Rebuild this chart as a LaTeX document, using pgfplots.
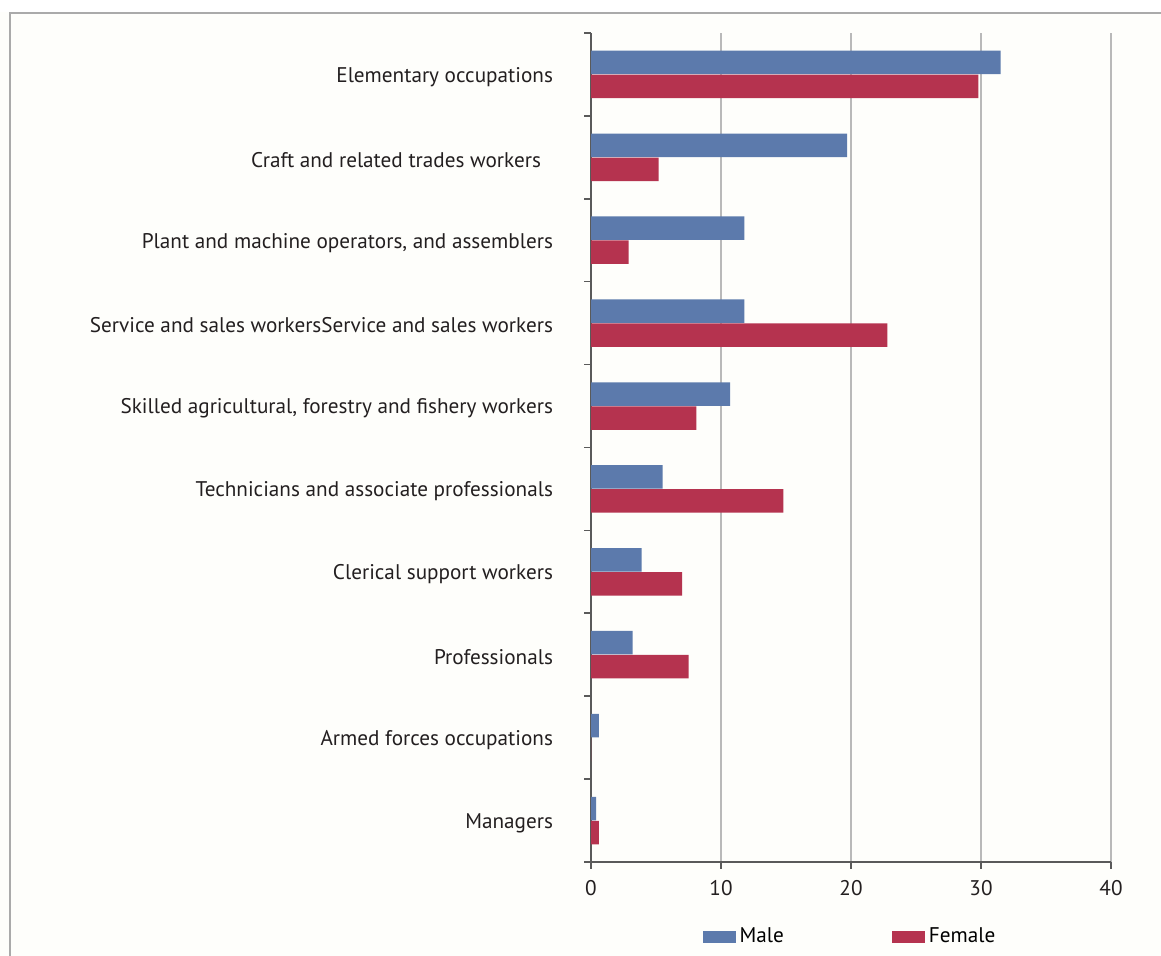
\documentclass[border=0pt]{standalone}
\usepackage{fontspec}
\setmainfont{PT Sans}
\usepackage{pgfplots}
\pgfplotsset{compat=1.18}
\definecolor{male}{RGB}{92,122,172}
\definecolor{female}{RGB}{181,51,79}
\definecolor{txt}{RGB}{35,31,32}
\definecolor{axln}{RGB}{90,90,90}
\definecolor{grd}{RGB}{185,185,185}
\definecolor{frm}{RGB}{170,170,170}
\begin{document}
\begin{tikzpicture}
\path[use as bounding box, fill={rgb,255:red,254;green,254;blue,251}] (0,0) rectangle (580.5pt,478pt);
\fill[white] (0,472pt) rectangle (580.5pt,478pt);
\draw[frm, line width=1.2pt] (5pt,0) -- (5pt,471.5pt) -- (580.5pt,471.5pt);
\begin{axis}[
  at={(295.5pt,47pt)}, anchor=south west,
  scale only axis, width=260pt, height=414.5pt,
  xbar, bar width=11.75pt,
  xmin=0, xmax=40, ymin=-0.5, ymax=9.5,
  axis lines*=left,
  axis line style={axln, line width=0.8pt},
  xtick={0,10,20,30,40},
  xmajorgrids, grid style={grd, line width=0.8pt},
  major x tick style={axln, line width=0.8pt},
  tick align=outside, major tick length=3.5pt,
  ytick={0,...,9},
  major y tick style={draw=none},
  minor ytick={-0.5,0.5,...,9.5},
  minor y tick style={axln, line width=0.8pt},
  minor tick length=3.5pt,
  yticklabels={Managers, Armed forces occupations, Professionals, Clerical support workers, Technicians and associate professionals, {Skilled agricultural, forestry and fishery workers}, Service and sales workersService and sales workers, {Plant and machine operators, and assemblers}, Craft and related trades workers\hspace*{6pt}, Elementary occupations},
  yticklabel style={font=\fontsize{10.6}{12}\selectfont, text=txt, xshift=-12pt, yshift=-1.2pt},
  xticklabel style={font=\fontsize{10.6}{12}\selectfont, text=txt, yshift=-2pt},
  /pgf/number format/assume math mode=true,
  legend style={at={(0.5,-0.09)}, anchor=center, draw=none, fill=none,
    legend columns=2, font=\fontsize{10.6}{12}\selectfont,
    /tikz/every even column/.append style={column sep=52pt}},
  legend image code/.code={\fill[#1] (0pt,-3pt) rectangle (16.5pt,3pt);},
]
\addplot[fill=male, draw=none, bar shift=6pt] coordinates {
  (0.4,0) (0.6,1) (3.2,2) (3.9,3) (5.5,4) (10.7,5) (11.8,6) (11.8,7) (19.7,8) (31.5,9)};
\addlegendentry{Male}
\addplot[fill=female, draw=none, bar shift=-6pt] coordinates {
  (0.6,0) (0,1) (7.5,2) (7.0,3) (14.8,4) (8.1,5) (22.8,6) (2.9,7) (5.2,8) (29.8,9)};
\addlegendentry{Female}
\end{axis}
\end{tikzpicture}
\end{document}
